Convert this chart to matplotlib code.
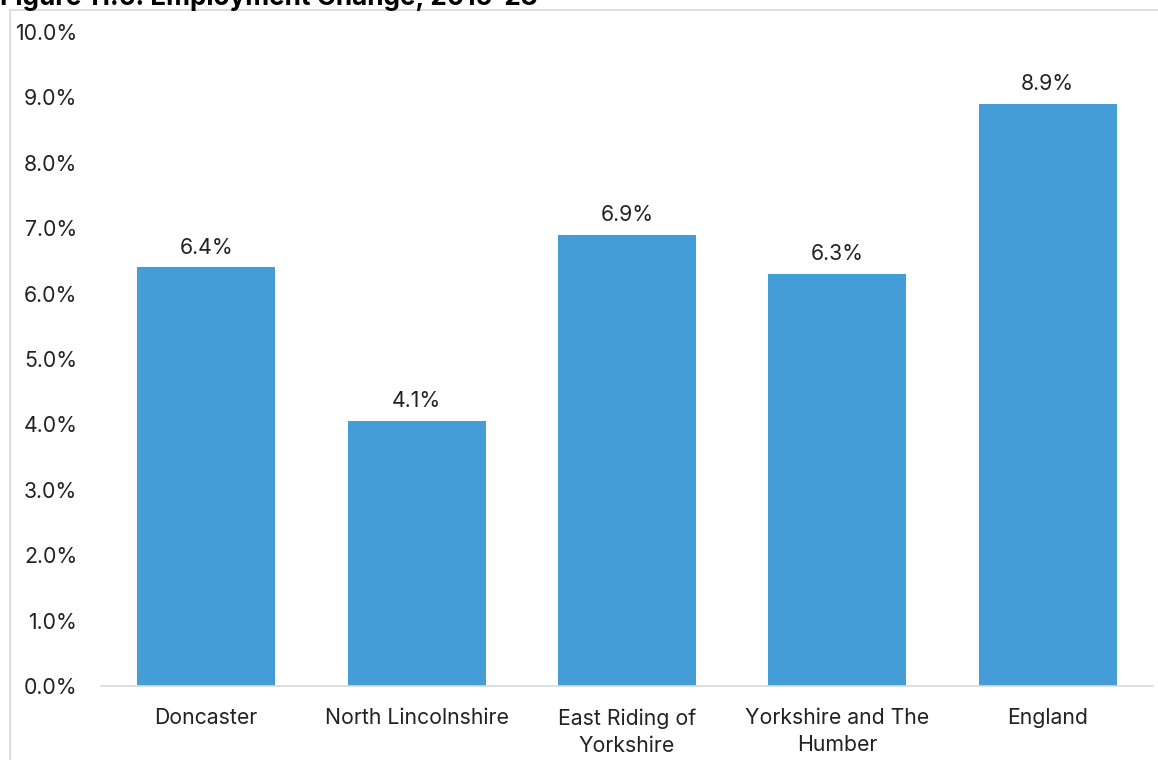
import matplotlib.pyplot as plt
from matplotlib.patches import Rectangle

areas = ["Doncaster", "North Lincolnshire", "East Riding of\nYorkshire",
         "Yorkshire and The\nHumber", "England"]
change = [6.4, 4.05, 6.9, 6.3, 8.9]
change_labels = ["6.4%", "4.1%", "6.9%", "6.3%", "8.9%"]
yticks = [0, 1, 2, 3, 4, 5, 6, 7, 8, 9, 10]

plt.rcParams['font.family'] = ['Inter', 'DejaVu Sans']

W, H = 1158, 760
fig = plt.figure(figsize=(W / 100, H / 100), dpi=100)

# outer chart border
fig.patches.append(Rectangle((10 / W, -0.01), 1.2, 1 - 10 / H + 0.01,
                             transform=fig.transFigure, fill=False,
                             edgecolor="#d9d9d9", linewidth=1.2))

fig.text(0, 1 - 5 / H, "Figure 11.6: Employment Change, 2015-23",
         fontsize=18.8, fontweight="bold", va="baseline", ha="left")

ax = fig.add_axes([101 / W, 1 - 686 / H, 1052 / W, 654 / H])
x = range(len(areas))
bars = ax.bar(x, change, width=0.655, color="#449dd7")

for b, lab in zip(bars, change_labels):
    ax.text(b.get_x() + b.get_width() / 2, b.get_height() + 0.15, lab,
            ha="center", va="bottom", fontsize=15.3, color="#222222")

ax.set_xlim(-0.5, len(areas) - 0.5)
ax.set_ylim(0, 10)
ax.set_yticks(yticks)
ax.set_yticklabels([f"{v:.1f}%" for v in yticks])
ax.set_xticks(list(x))
ax.set_xticklabels(areas, linespacing=1.45)

for s in ["top", "right", "left"]:
    ax.spines[s].set_visible(False)
ax.spines["bottom"].set_color("#d9d9d9")
ax.spines["bottom"].set_linewidth(1.2)
ax.tick_params(axis="both", length=0, labelsize=15.3, colors="#222222")
ax.tick_params(axis="y", pad=17)
ax.tick_params(axis="x", pad=16)

fig.savefig("out.png", dpi=100)
